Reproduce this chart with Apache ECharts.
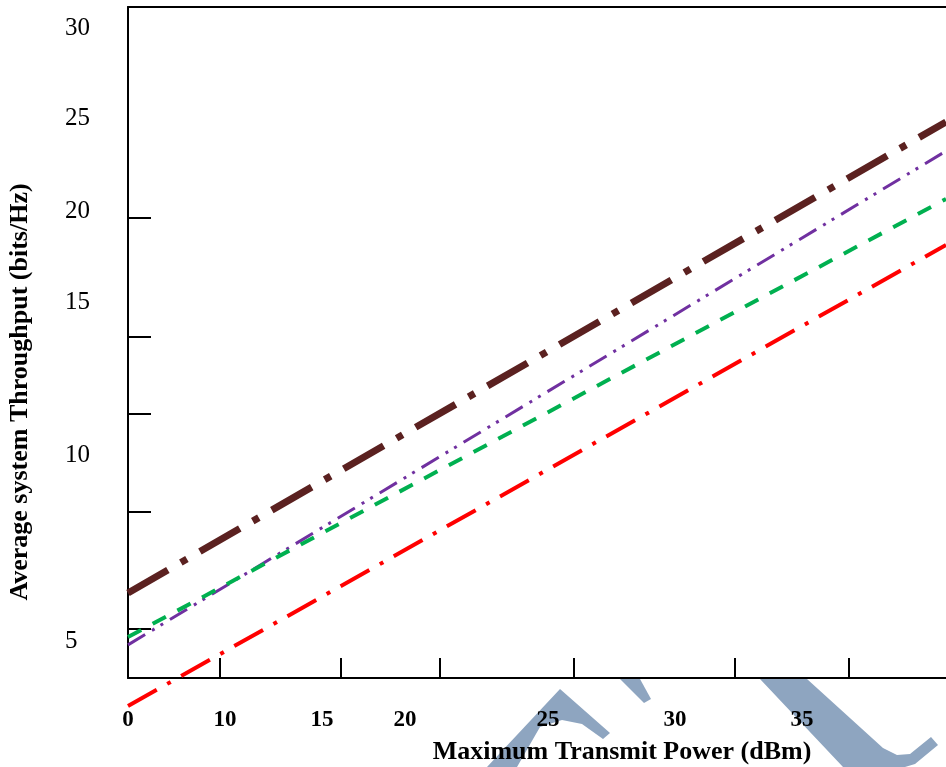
<!DOCTYPE html>
<html>
<head>
<meta charset="utf-8">
<script src="https://cdn.jsdelivr.net/npm/echarts@6/dist/echarts.min.js"></script>
<style>
  html, body { margin: 0; padding: 0; background: #fff; }
  #chart { width: 946px; height: 767px; }
</style>
</head>
<body>
<div id="chart"></div>
<script>
// x runs 0..40 across the plot, y runs 0..30 (the printed labels sit where the figure put them)
var power = [0, 10, 20, 30, 40];
var brownLine = [3.80, 9.07, 14.33, 19.60, 24.86];
var purpleLine = [1.48, 7.00, 12.52, 18.04, 23.56];
var greenLine = [1.83, 6.73, 11.62, 16.52, 21.42];
var redLine = [-1.25, 3.90, 9.05, 14.21, 19.36];

var xLabels = ['0', '10', '15', '20', '25', '30', '35'];
var xLabelAt = [0, 4.74, 9.49, 13.55, 20.54, 26.75, 32.96];
var xTickAt = [4.50, 10.42, 15.26, 21.81, 29.68, 35.26];

var yLabels = ['30', '25', '20', '15', '10', '5'];
var yLabelAt = [29.06, 25.04, 20.88, 16.77, 9.97, 1.65];
var yTickAt = [20.57, 15.25, 11.80, 7.42, 2.19];

var serif = '"Liberation Serif", "Times New Roman", serif';

function pairs(ys) {
    return power.map(function(x, i) { return [x, ys[i]]; });
}

function labelFor(list, at) {
    return function(v) {
        var i = at.indexOf(v);
        return i < 0 ? '' : list[i];
    };
}

function makeLine(name, data, color, width, dash) {
    return {
        name: name,
        type: 'line',
        data: pairs(data),
        symbol: 'none',
        clip: false,
        lineStyle: { color: color, width: width, type: dash, cap: 'butt' }
    };
}

var chart = echarts.init(document.getElementById('chart'));

chart.setOption({
    animation: false,
    backgroundColor: '#ffffff',
    grid: { left: 128, right: 0, top: 7, bottom: 89 },
    xAxis: [{
        type: 'value',
        min: 0,
        max: 40,
        position: 'bottom',
        axisLine: { show: true, onZero: false, lineStyle: { color: '#000', width: 2 } },
        splitLine: { show: false },
        axisTick: {
            show: true, inside: true, length: 20, customValues: xTickAt,
            lineStyle: { color: '#000', width: 2 }
        },
        axisLabel: {
            customValues: xLabelAt,
            formatter: labelFor(xLabels, xLabelAt),
            margin: 31,
            color: '#000',
            fontFamily: serif,
            fontWeight: 'bold',
            fontSize: 23
        }
    }, {
        type: 'value',
        min: 0,
        max: 40,
        position: 'top',
        axisLine: { show: true, onZero: false, lineStyle: { color: '#000', width: 2 } },
        splitLine: { show: false },
        axisTick: { show: false },
        axisLabel: { show: false }
    }],
    yAxis: {
        type: 'value',
        min: 0,
        max: 30,
        axisLine: { show: true, onZero: false, lineStyle: { color: '#000', width: 2 } },
        splitLine: { show: false },
        axisTick: {
            show: true, inside: true, length: 23, customValues: yTickAt,
            lineStyle: { color: '#000', width: 2 }
        },
        axisLabel: {
            customValues: yLabelAt,
            formatter: labelFor(yLabels, yLabelAt),
            margin: 63,
            align: 'left',
            color: '#000',
            fontFamily: serif,
            fontSize: 25
        }
    },
    graphic: [
        // faint blue watermark strokes along the bottom edge
        { type: 'polygon', z: -1, shape: { points: [[487, 767], [560, 689], [610, 733], [603, 739], [582, 724], [562, 720], [540, 727], [517, 767]] }, style: { fill: '#8ea5c0' } },
        { type: 'polygon', z: -1, shape: { points: [[620, 679], [640, 679], [651, 699], [644, 703]] }, style: { fill: '#8ea5c0' } },
        { type: 'polygon', z: -1, shape: { points: [[760, 679], [807, 679], [883, 748], [897, 755], [910, 754], [931, 737], [938, 745], [915, 764], [905, 767], [843, 767]] }, style: { fill: '#8ea5c0' } },
        {
            type: 'text', x: 622, y: 752,
            style: {
                text: 'Maximum Transmit Power (dBm)', fill: '#000',
                font: 'bold 26px ' + serif, align: 'center', verticalAlign: 'middle'
            }
        },
        {
            type: 'text', x: 20, y: 392, rotation: Math.PI / 2,
            style: {
                text: 'Average system Throughput (bits/Hz)', fill: '#000',
                font: 'bold 26px ' + serif, align: 'center', verticalAlign: 'middle'
            }
        }
    ],
    series: [
        makeLine('Scheme 1', brownLine, '#5b2120', 7, [46, 15, 7, 15]),
        makeLine('Scheme 2', purpleLine, '#7030a0', 3, [20, 8, 3, 7, 3, 8]),
        makeLine('Scheme 3', greenLine, '#00b050', 4, [15, 13]),
        makeLine('Scheme 4', redLine, '#ff0000', 4, [33, 12, 4, 12])
    ]
});
</script>
</body>
</html>
